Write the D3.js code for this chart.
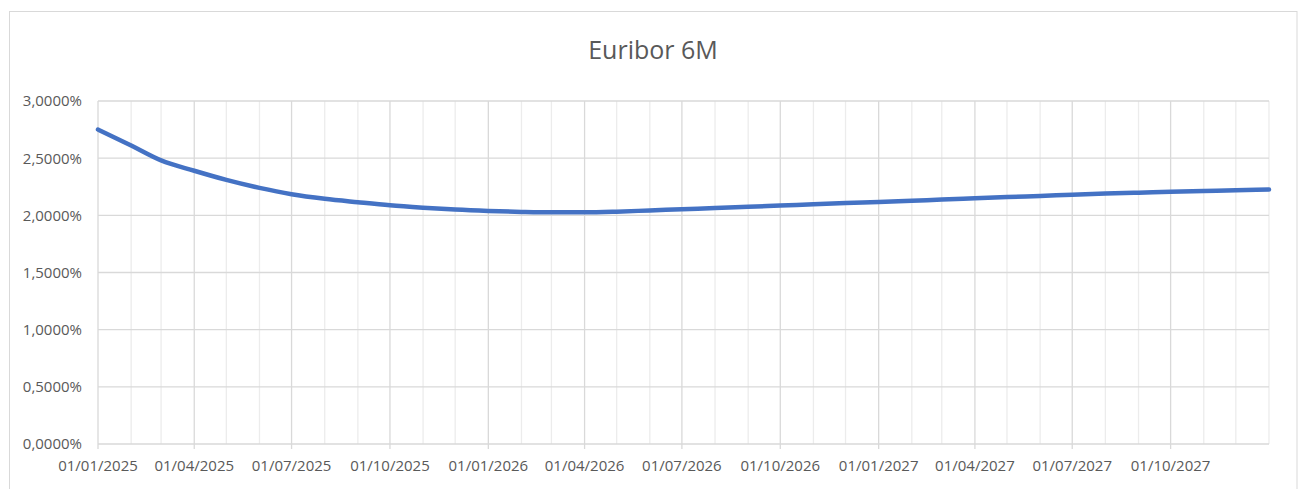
<!DOCTYPE html>
<html>
<head>
<meta charset="utf-8">
<script src="https://cdn.jsdelivr.net/npm/d3@7"></script>
<style>
  body { margin: 0; background: #fff; }
  svg { display: block; font-family: "Open Sans", sans-serif; }
</style>
</head>
<body>
<svg class="line-chart"></svg>
<script>
var title = "Euribor 6M"

// one point per month, value in %
var dates = [
  "2025-01-01", "2025-02-01", "2025-03-01", "2025-04-01", "2025-05-01", "2025-06-01",
  "2025-07-01", "2025-08-01", "2025-09-01", "2025-10-01", "2025-11-01", "2025-12-01",
  "2026-01-01", "2026-02-01", "2026-03-01", "2026-04-01", "2026-05-01", "2026-06-01",
  "2026-07-01", "2026-08-01", "2026-09-01", "2026-10-01", "2026-11-01", "2026-12-01",
  "2027-01-01", "2027-02-01", "2027-03-01", "2027-04-01", "2027-05-01", "2027-06-01",
  "2027-07-01", "2027-08-01", "2027-09-01", "2027-10-01", "2027-11-01", "2027-12-01",
  "2028-01-01"
]
var rates = [
  2.750, 2.610, 2.480, 2.390, 2.310, 2.240,
  2.185, 2.145, 2.115, 2.088, 2.067, 2.050,
  2.038, 2.030, 2.026, 2.026, 2.032, 2.043,
  2.053, 2.064, 2.074, 2.085, 2.096, 2.107,
  2.117, 2.128, 2.138, 2.149, 2.160, 2.170,
  2.180, 2.190, 2.198, 2.206, 2.213, 2.220,
  2.226
]

var yTicks = [0, 0.5, 1, 1.5, 2, 2.5, 3]
var xLabelDates = [
  "2025-01-01", "2025-04-01", "2025-07-01", "2025-10-01",
  "2026-01-01", "2026-04-01", "2026-07-01", "2026-10-01",
  "2027-01-01", "2027-04-01", "2027-07-01", "2027-10-01"
]

var width = 1298
var height = 489
var margin = {top: 101, right: 29, bottom: 45, left: 98}
var chartWidth = width - margin.left - margin.right
var chartHeight = height - margin.top - margin.bottom

var parseDate = d3.timeParse("%Y-%m-%d")
var fmtDate = d3.timeFormat("%d/%m/%Y")
var fmtIso = d3.timeFormat("%Y-%m-%d")
var esLocale = d3.formatLocale({decimal: ",", thousands: ".", grouping: [3], currency: ["", "€"]})
var fmtPct = esLocale.format(".4f")

var data = dates.map(function(d, i) { return {date: parseDate(d), rate: rates[i]} })

var x = d3.scaleTime()
  .domain([parseDate(dates[0]), parseDate(dates[dates.length - 1])])
  .range([0, chartWidth])
var y = d3.scaleLinear().domain([0, 3]).range([chartHeight, 0])

var svg = d3.select(".line-chart")
  .attr("width", width)
  .attr("height", height)

// chart area border
svg.append("rect")
  .attr("x", 9.5)
  .attr("y", 11.5)
  .attr("width", 1287.5)
  .attr("height", 490)
  .attr("fill", "none")
  .attr("stroke", "#d9d9d9")

svg.append("text")
  .attr("x", 653)
  .attr("y", 59)
  .attr("text-anchor", "middle")
  .attr("font-size", 25)
  .attr("fill", "#595959")
  .text(title)

var g = svg.append("g")
  .attr("transform", `translate(${margin.left},${margin.top})`)

// minor (monthly) vertical gridlines
g.append("g").selectAll("line")
  .data(data.filter(function(d) { return xLabelDates.indexOf(fmtIso(d.date)) < 0 }))
  .enter().append("line")
    .attr("x1", function(d) { return x(d.date) })
    .attr("x2", function(d) { return x(d.date) })
    .attr("y1", 0)
    .attr("y2", chartHeight)
    .attr("stroke", "#ececec")
    .attr("stroke-width", 1.3)

// major vertical gridlines
g.append("g").selectAll("line")
  .data(xLabelDates.map(parseDate))
  .enter().append("line")
    .attr("x1", function(d) { return x(d) })
    .attr("x2", function(d) { return x(d) })
    .attr("y1", 0)
    .attr("y2", chartHeight + 5)
    .attr("stroke", "#d9d9d9")
    .attr("stroke-width", 1.3)

// horizontal gridlines
g.append("g").selectAll("line")
  .data(yTicks)
  .enter().append("line")
    .attr("x1", 0)
    .attr("x2", chartWidth)
    .attr("y1", function(d) { return y(d) })
    .attr("y2", function(d) { return y(d) })
    .attr("stroke", "#d9d9d9")
    .attr("stroke-width", 1.3)

// y labels
g.append("g").selectAll("text")
  .data(yTicks)
  .enter().append("text")
    .attr("x", -16)
    .attr("y", function(d) { return y(d) })
    .attr("dy", "0.36em")
    .attr("text-anchor", "end")
    .attr("font-size", 15)
    .attr("fill", "#595959")
    .text(function(d) { return fmtPct(d) + "%" })

// x labels
g.append("g").selectAll("text")
  .data(xLabelDates.map(parseDate))
  .enter().append("text")
    .attr("x", function(d) { return x(d) })
    .attr("y", chartHeight + 26.5)
    .attr("text-anchor", "middle")
    .attr("font-size", 15)
    .attr("fill", "#595959")
    .text(function(d) { return fmtDate(d) })

var line = d3.line()
  .curve(d3.curveMonotoneX)
  .x(function(d) { return x(d.date) })
  .y(function(d) { return y(d.rate) })

g.append("path")
  .datum(data)
  .attr("fill", "none")
  .attr("stroke", "#4472c4")
  .attr("stroke-width", 4.5)
  .attr("stroke-linejoin", "round")
  .attr("stroke-linecap", "round")
  .attr("d", line)
</script>
</body>
</html>
